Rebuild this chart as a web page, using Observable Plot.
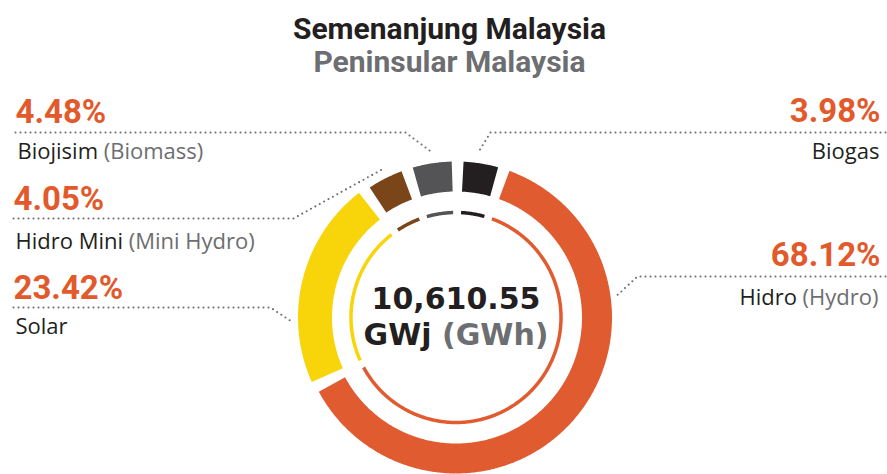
<!DOCTYPE html>
<html><head><meta charset="utf-8">
<script src="https://cdn.jsdelivr.net/npm/d3@7"></script>
<script src="https://cdn.jsdelivr.net/npm/@observablehq/plot@0.6"></script>
<style>body{margin:0;background:#fff} svg{display:block}</style>
</head><body><div id="chart"></div>
<script>
// ---- data ----
const titleMs = "Semenanjung Malaysia";
const titleEn = "Peninsular Malaysia";
const sources   = ["Hidro", "Solar", "Hidro Mini", "Biojisim", "Biogas"];
const sourcesEn = ["Hydro", "", "Mini Hydro", "Biomass", ""];
const shares    = [68.12, 23.42, 4.05, 4.48, 3.98];
const totalGWh  = 10610.55;
const unitMs = "GWj", unitEn = "GWh";

// ---- style / layout ----
const colors = ["#E05C30", "#F8D50B", "#7A4519", "#545457", "#231F20"];
const orange = "#E25A2C", ink = "#231F20", gray = "#6D6E71";
const W = 887, H = 474, cx = 455.5, cy = 317;
const gapDeg = 4.3, startDeg = 20;
const ring = {inner: 126, outer: 156};
const ringWide = {"Solar": {inner: 124, outer: 158}};
const thinR = 105, thinW = 3.5;
const condensed = "Roboto, sans-serif";
const book = "'Open Sans', sans-serif";
const heavy = "'DejaVu Sans', sans-serif";
// label layout: side, x of text, baseline of pct, baseline of name, leader y, elbow x, leader end (deg, r)
const labelLayout = {
  "Biojisim":   {side: "left",  x: 15, nx: 17, pctY: 122, nameY: 158, lineY: 132, elbow: 405, endDeg: 351.7, endR: 167},
  "Hidro Mini": {side: "left",  x: 13, nx: 15, pctY: 209, nameY: 248, lineY: 218, elbow: 293, endDeg: 333.4, endR: 165.5},
  "Solar":      {side: "left",  x: 13, nx: 15, pctY: 298, nameY: 333, lineY: 307, elbow: 270, endDeg: 268.2, endR: 163},
  "Biogas":     {side: "right", x: 880, nx: 879, pctY: 121, nameY: 158, lineY: 132, elbow: 490, endDeg: 7.6, endR: 166},
  "Hidro":      {side: "right", x: 880, nx: 878, pctY: 265, nameY: 304, lineY: 276, elbow: 637, endDeg: 82.2, endR: 162.5}
};

// ---- derived geometry ----
const total = d3.sum(shares);
const avail = 360 - sources.length * gapDeg;
const arcs = [];
{
  let a = startDeg;
  sources.forEach((s, i) => {
    const span = shares[i] / total * avail;
    arcs.push({source: s, a0: a, a1: a + span});
    a += span + gapDeg;
  });
}
const rad = d => d * Math.PI / 180;
const px = (deg, r) => cx + r * Math.sin(rad(deg));
const py = (deg, r) => cy - r * Math.cos(rad(deg));
function arcPoints(arc, r) {
  const n = Math.max(2, Math.ceil((arc.a1 - arc.a0) / 0.5));
  return d3.range(n + 1).map(k => {
    const t = arc.a0 + (arc.a1 - arc.a0) * k / n;
    return {source: arc.source, x: px(t, r), y: py(t, r)};
  });
}

const marks = [];
arcs.forEach(arc => {
  const rr = ringWide[arc.source] || ring;
  marks.push(Plot.line(arcPoints(arc, (rr.inner + rr.outer) / 2), {
    x: "x", y: "y", stroke: "source", strokeWidth: rr.outer - rr.inner,
    strokeLinecap: "butt", strokeLinejoin: "round"
  }));
  marks.push(Plot.line(arcPoints(arc, thinR), {
    x: "x", y: "y", stroke: "source", strokeWidth: thinW,
    strokeLinecap: "butt", strokeLinejoin: "round"
  }));
});

// leaders
const leaderRows = [];
sources.forEach(s => {
  const L = labelLayout[s];
  const x0 = L.side === "left" ? L.x : W - 2;
  leaderRows.push({source: s, x: x0, y: L.lineY});
  leaderRows.push({source: s, x: L.elbow, y: L.lineY});
  leaderRows.push({source: s, x: px(L.endDeg, L.endR), y: py(L.endDeg, L.endR)});
});
marks.push(Plot.line(leaderRows, {
  x: "x", y: "y", z: "source", stroke: gray, strokeWidth: 2.1,
  strokeDasharray: "0 5", strokeLinecap: "round"
}));

// labels
const labelRows = sources.map((s, i) => {
  const L = labelLayout[s];
  return {
    source: s, x: L.x, nx: L.nx, pctY: L.pctY, nameY: L.nameY,
    anchor: L.side === "left" ? "start" : "end",
    pct: shares[i].toFixed(2) + "%",
    name: sourcesEn[i] ? `${s} (${sourcesEn[i]})` : s
  };
});
const fmt = d3.format(",.2f");
for (const anchor of ["start", "end"]) {
  const rows = labelRows.filter(d => d.anchor === anchor);
  marks.push(
    Plot.text(rows, {x: "x", y: "pctY", text: "pct", textAnchor: anchor, lineAnchor: "bottom",
      fill: orange, fontFamily: condensed, fontWeight: 700, fontSize: 33}),
    Plot.text(rows, {x: "nx", y: "nameY", text: "name", textAnchor: anchor, lineAnchor: "bottom",
      fill: ink, fontFamily: book, fontSize: 22})
  );
}
marks.push(
  Plot.text([titleMs], {x: () => 449, y: () => 38, text: d => d, textAnchor: "middle", lineAnchor: "bottom",
    fill: ink, fontFamily: condensed, fontWeight: 700, fontSize: 30}),
  Plot.text([titleEn], {x: () => 449, y: () => 71, text: d => d, textAnchor: "middle", lineAnchor: "bottom",
    fill: gray, fontFamily: condensed, fontWeight: 700, fontSize: 30}),
  Plot.text([fmt(totalGWh)], {x: () => cx, y: () => 308.5, text: d => d, textAnchor: "middle", lineAnchor: "bottom",
    fill: ink, fontFamily: heavy, fontWeight: 700, fontSize: 30}),
  Plot.text([`${unitMs} (${unitEn})`], {x: () => cx, y: () => 344, text: d => d, textAnchor: "middle", lineAnchor: "bottom",
    fill: ink, fontFamily: heavy, fontWeight: 700, fontSize: 30})
);

const svg = Plot.plot({
  width: W, height: H, margin: 0,
  x: {domain: [0, W], range: [0, W], axis: null},
  y: {domain: [0, H], range: [0, H], axis: null},
  color: {domain: sources, range: colors},
  style: {background: "#fff", overflow: "visible"},
  marks
});

// colour the English part in parentheses grey
d3.select(svg).selectAll("text").each(function () {
  const t = this.textContent;
  const m = t.match(/^(.*?) (\(.*\))$/);
  if (m) {
    const sel = d3.select(this);
    sel.text(null);
    sel.append("tspan").text(m[1] + " ");
    sel.append("tspan").attr("fill", gray).text(m[2]);
  }
});
document.getElementById("chart").appendChild(svg);
</script>
</body></html>
